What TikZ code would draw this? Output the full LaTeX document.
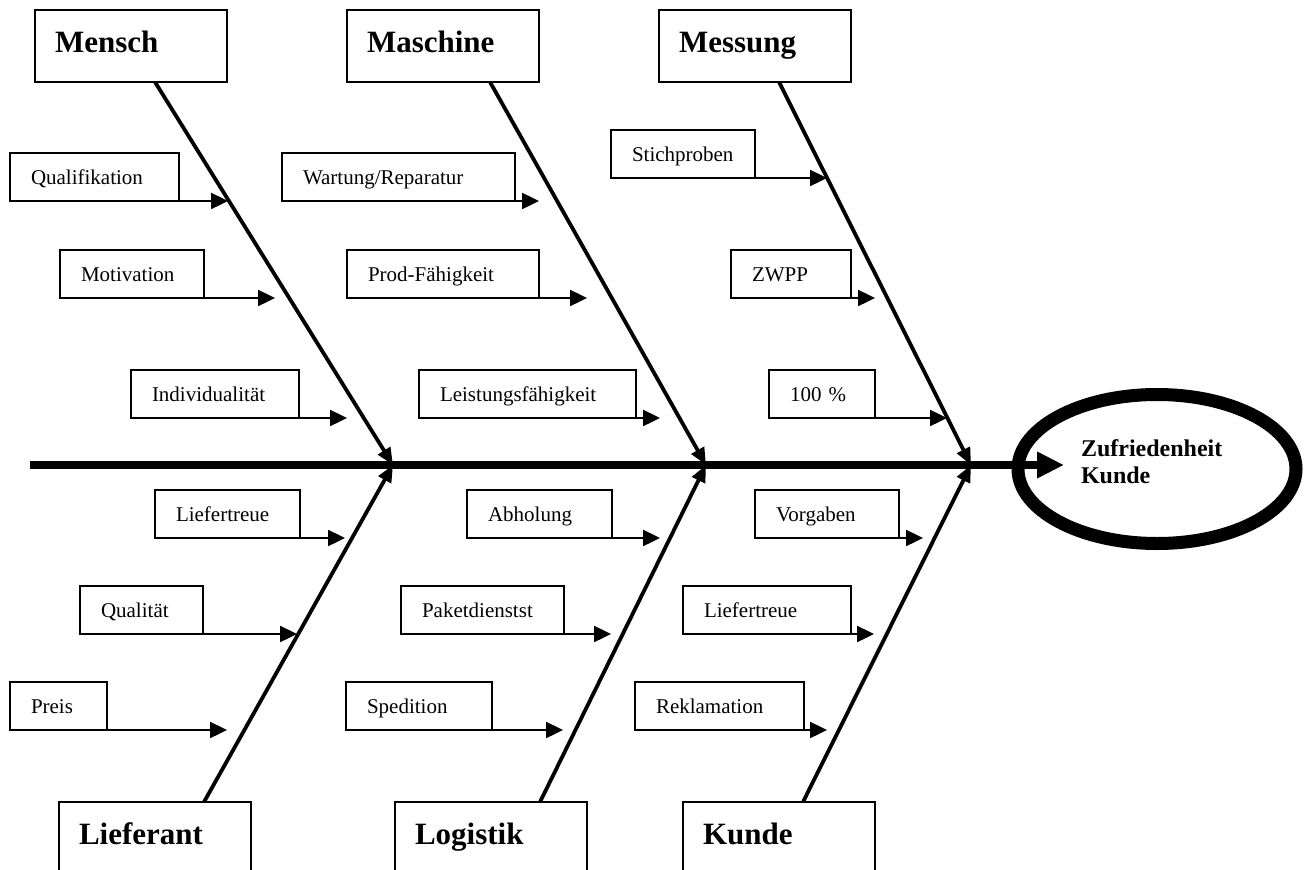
\documentclass[tikz,border=0pt]{standalone}
\usepackage{fontspec}
\setmainfont{Liberation Serif}
\usetikzlibrary{arrows.meta,shapes.geometric}
\newcommand{\causefont}{\fontsize{21}{25}\selectfont}
\newcommand{\bonefont}{\bfseries\fontsize{31}{36}\selectfont}
\newcommand{\goalfont}{\bfseries\fontsize{24}{27}\selectfont}
\begin{document}
\begin{tikzpicture}[x=1pt,y=-1pt,
  category/.style={draw,line width=1.8pt,anchor=north west,outer sep=0pt,minimum height=72pt,inner xsep=20pt,inner ysep=0pt,align=left,text width=152pt,text height=20pt,text depth=8pt,font=\bonefont},
  cause/.style={draw,line width=1.6pt,anchor=north west,outer sep=0pt,minimum height=48pt,inner xsep=21pt,inner ysep=0pt,align=left,text width=#1,text height=16pt,text depth=2pt,font=\causefont},
  goal/.style={draw,ellipse,line width=13pt,minimum width=278pt,minimum height=149pt,inner sep=0pt,align=left,text width=152pt,text depth=41pt,font=\goalfont},
  bone/.style={line width=3.8pt,-{Triangle[length=17pt,width=14pt]}},
  feed/.style={line width=2.4pt,-{Triangle[length=17pt,width=16pt]}},
  spine/.style={line width=8.5pt,-{Triangle[length=27pt,width=25pt]}}]
\useasboundingbox (0,0) rectangle (1310,870);
\node[category] (mensch) at (35,10) {Mensch};
\node[category] (maschine) at (347,10) {Maschine};
\node[category] (messung) at (659,10) {Messung};
\node[category] (lieferant) at (59,802) {Lieferant};
\node[category] (logistik) at (395,802) {Logistik};
\node[category] (kunde) at (683,802) {Kunde};
\node[goal] (ziel) at (1157,469) {Zufriedenheit\\Kunde};
\coordinate (tail) at (30,465);
\coordinate (tip) at (1064,465);
\coordinate (j1) at (393,465);
\coordinate (j2) at (706,465);
\coordinate (j3) at (971,465);
\draw[spine] (tail) -- (tip);
\draw[bone] ([xshift=120pt]mensch.south west) -- (j1);
\draw[bone] ([xshift=143pt]maschine.south west) -- (j2);
\draw[bone] ([xshift=120pt]messung.south west) -- (j3);
\draw[bone] ([xshift=145pt]lieferant.north west) -- (j1);
\draw[bone] ([xshift=145pt]logistik.north west) -- (j2);
\draw[bone] ([xshift=120pt]kunde.north west) -- (j3);
\node[cause=127pt] (qualifikation) at (10,153) {Qualifikation};
\node[cause=102pt] (motivation) at (60,250) {Motivation};
\node[cause=126pt] (individualitaet) at (131,370) {Individualität};
\node[cause=191pt] (wartung) at (282,153) {Wartung/Reparatur};
\node[cause=150pt] (prod) at (347,250) {Prod-Fähigkeit};
\node[cause=175pt] (leistung) at (419,370) {Leistungsfähigkeit};
\node[cause=102pt] (stichproben) at (611,130) {Stichproben};
\node[cause=78pt] (zwpp) at (731,250) {ZWPP};
\node[cause=64pt] (hundert) at (769,370) {100 \%};
\node[cause=103pt] (liefertreueA) at (155,490) {Liefertreue};
\node[cause=81pt] (qualitaet) at (80,586) {Qualität};
\node[cause=55pt] (preis) at (10,682) {Preis};
\node[cause=103pt] (abholung) at (467,490) {Abholung};
\node[cause=121pt] (paket) at (401,586) {Paketdienstst};
\node[cause=104pt] (spedition) at (346,682) {Spedition};
\node[cause=102pt] (vorgaben) at (755,490) {Vorgaben};
\node[cause=126pt] (liefertreueB) at (683,586) {Liefertreue};
\node[cause=127pt] (reklamation) at (635,682) {Reklamation};
\coordinate (qualifikation-end) at (228,201);
\coordinate (motivation-end) at (275,298);
\coordinate (individualitaet-end) at (347,418);
\coordinate (wartung-end) at (539,201);
\coordinate (prod-end) at (587,298);
\coordinate (leistung-end) at (660,418);
\coordinate (stichproben-end) at (827,178);
\coordinate (zwpp-end) at (875,298);
\coordinate (hundert-end) at (947,418);
\coordinate (liefertreueA-end) at (345,538);
\coordinate (qualitaet-end) at (297,634);
\coordinate (preis-end) at (227,730);
\coordinate (abholung-end) at (660,538);
\coordinate (paket-end) at (611,634);
\coordinate (spedition-end) at (563,730);
\coordinate (vorgaben-end) at (923,538);
\coordinate (liefertreueB-end) at (874,634);
\coordinate (reklamation-end) at (827,730);
\draw[feed] (qualifikation.south west) -- (qualifikation-end);
\foreach \c in {motivation,individualitaet,wartung,prod,leistung,stichproben,zwpp,hundert,liefertreueA,qualitaet,preis,abholung,paket,spedition,vorgaben,liefertreueB,reklamation}
  \draw[feed] (\c.south east) -- (\c-end);
\end{tikzpicture}
\end{document}
